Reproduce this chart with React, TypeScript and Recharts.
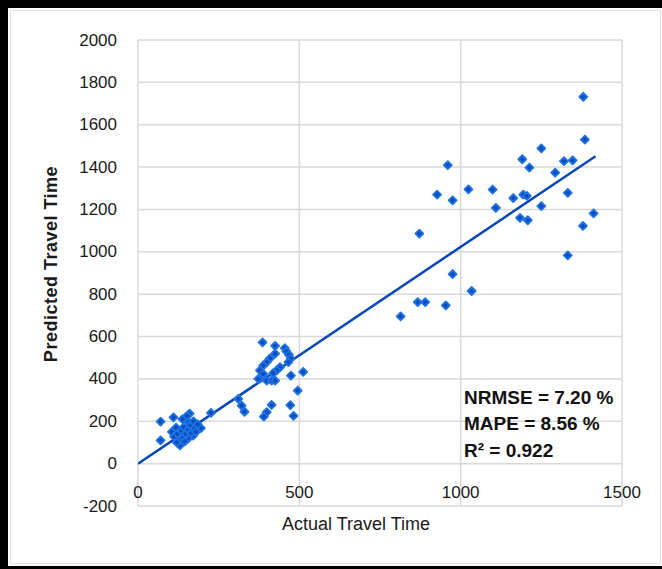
import { ScatterChart, Scatter, XAxis, YAxis, CartesianGrid } from "recharts";

const FONT = "'Liberation Sans', Arial, sans-serif";

const xTicks = [0, 500, 1000, 1500];
const yTicks = [-200, 0, 200, 400, 600, 800, 1000, 1200, 1400, 1600, 1800, 2000];

// short trips (bottom-left cluster)
const actualShort = [70, 70, 110, 160, 226, 130, 195, 171, 155, 105, 112, 118, 122, 128, 135, 140, 142, 148, 155, 158, 162, 165, 172, 175, 180, 185, 120, 145, 138, 152];
const predictedShort = [198, 110, 218, 236, 240, 86, 168, 132, 118, 150, 128, 170, 140, 110, 155, 125, 172, 140, 160, 195, 180, 145, 200, 165, 150, 185, 100, 105, 210, 225];

// medium trips (middle cluster)
const actualMedium = [386, 425, 455, 460, 468, 473, 466, 425, 409, 399, 388, 440, 430, 419, 378, 388, 399, 414, 425, 373, 474, 512, 495, 414, 472, 399, 390, 482, 311, 321, 330];
const predictedMedium = [572, 556, 545, 530, 514, 496, 479, 519, 497, 479, 463, 455, 440, 427, 440, 424, 392, 392, 392, 400, 415, 433, 345, 277, 276, 243, 222, 226, 306, 274, 245];

// long trips (top-right cluster)
const actualLong = [960, 927, 975, 1024, 1099, 1109, 872, 975, 1034, 867, 890, 954, 814, 1380, 1385, 1250, 1191, 1213, 1320, 1347, 1293, 1163, 1194, 1205, 1250, 1332, 1184, 1208, 1412, 1379, 1332];
const predictedLong = [1409, 1270, 1243, 1295, 1294, 1207, 1086, 895, 815, 762, 762, 747, 695, 1732, 1530, 1488, 1437, 1398, 1428, 1432, 1374, 1254, 1270, 1264, 1216, 1278, 1160, 1149, 1182, 1122, 983];

const trendActual = [0, 1418];
const trendPredicted = [0, 1451];

const statLines = ["NRMSE = 7.20 %", "MAPE = 8.56 %", "R\u00B2 = 0.922"];

const points = [
  ...actualShort.map((x, i) => ({ x, y: predictedShort[i] })),
  ...actualMedium.map((x, i) => ({ x, y: predictedMedium[i] })),
  ...actualLong.map((x, i) => ({ x, y: predictedLong[i] })),
];
const trend = trendActual.map((x, i) => ({ x, y: trendPredicted[i] }));

const Marker = (props: any) => {
  const { cx, cy } = props;
  const r = 4;
  return (
    <path
      d={`M${cx},${cy - r}L${cx + r},${cy}L${cx},${cy + r}L${cx - r},${cy}Z`}
      fill="#0b4cc2"
      stroke="#1f73e0"
      strokeWidth={1.8}
      strokeLinejoin="round"
    />
  );
};

const XTick = (props: any) => {
  const { x, y, payload } = props;
  return (
    <text x={x} y={y - 14} textAnchor="middle" dominantBaseline="central" fontSize={17} fontFamily={FONT} fill="#1a1a1a">
      {payload.value}
    </text>
  );
};

const YTick = (props: any) => {
  const { x, y, payload } = props;
  return (
    <text x={x} y={y} textAnchor="end" dominantBaseline="central" fontSize={17} fontFamily={FONT} fill="#1a1a1a">
      {payload.value}
    </text>
  );
};

export default function App() {
  return (
    <div style={{ position: "absolute", left: 0, top: 0, width: 662, height: 569, background: "#fff" }}>
      <ScatterChart width={662} height={569} margin={{ top: 40, right: 40, bottom: 0, left: 0 }}>
        <CartesianGrid stroke="#d9d9d9" strokeWidth={1.5} />
        <XAxis
          type="number"
          dataKey="x"
          domain={[0, 1500]}
          ticks={xTicks}
          height={63}
          axisLine={false}
          tickLine={false}
          tickSize={0}
          tickMargin={0}
          tick={<XTick />}
          allowDataOverflow
        />
        <YAxis
          type="number"
          dataKey="y"
          domain={[-200, 2000]}
          ticks={yTicks}
          width={138}
          axisLine={false}
          tickLine={false}
          tickSize={0}
          tickMargin={21}
          tick={<YTick />}
          allowDataOverflow
        />
        <Scatter data={trend} line={{ stroke: "#0747b7", strokeWidth: 2.5 }} lineType="joint" shape={() => <g />} isAnimationActive={false} />
        <Scatter data={points} shape={<Marker />} isAnimationActive={false} />
      </ScatterChart>
      <svg width={662} height={569} style={{ position: "absolute", left: 0, top: 0, pointerEvents: "none" }}>
        <rect x={10.5} y={10.5} width={650} height={553} fill="none" stroke="#e3e3e3" />
        <text
          transform="translate(51,264) rotate(-90)"
          textAnchor="middle"
          dominantBaseline="central"
          fontSize={18}
          fontWeight="bold"
          fontFamily={FONT}
          letterSpacing={0.5}
          fill="#1a1a1a"
        >
          Predicted Travel Time
        </text>
        <text x={356} y={524} textAnchor="middle" dominantBaseline="central" fontSize={18} fontFamily={FONT} fill="#1a1a1a">
          Actual Travel Time
        </text>
        {statLines.map((s, i) => (
          <text key={s} x={464} y={397 + i * 26.5} dominantBaseline="central" fontSize={19} fontWeight="bold" fontFamily={FONT} fill="#111">
            {s}
          </text>
        ))}
        <rect x={0} y={0} width={662} height={8} fill="#000" />
        <rect x={0} y={0} width={8} height={569} fill="#000" />
        <rect x={0} y={566} width={662} height={3} fill="#000" />
      </svg>
    </div>
  );
}
